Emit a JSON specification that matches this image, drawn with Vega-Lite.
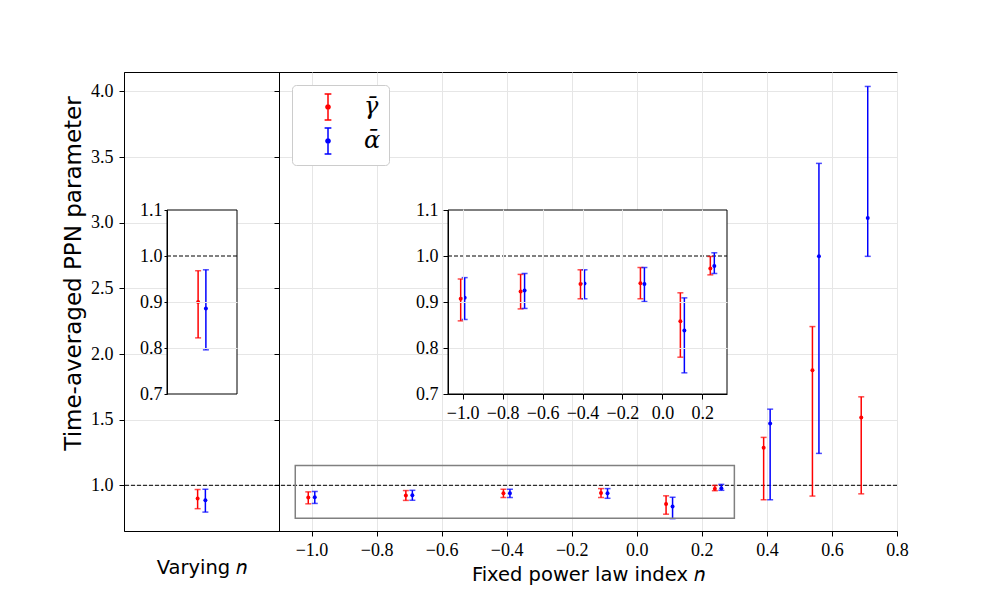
{
  "$schema": "https://vega.github.io/schema/vega-lite/v6.json",
  "width": 773,
  "height": 459,
  "autosize": {"type": "none"},
  "padding": {"left": 124, "top": 72, "right": 100, "bottom": 67},
  "background": "white",
  "config": {
    "view": {"stroke": "black", "strokeWidth": 1},
    "axis": {
      "labelFont": "Liberation Serif",
      "labelFontSize": 18,
      "labelColor": "black",
      "labelPadding": 5,
      "labelFlush": false,
      "labelOverlap": false,
      "tickColor": "black",
      "tickSize": 5,
      "tickWidth": 1,
      "domainColor": "black",
      "domainWidth": 1,
      "gridColor": "#e6e6e6",
      "gridWidth": 1,
      "titleFont": "DejaVu Sans",
      "titleFontWeight": "normal",
      "titleFontSize": 19.5,
      "titleColor": "black"
    }
  },
  "datasets": {
    "pts": [
      {"panel": "left", "n": -0.05, "param": "gamma", "v": 0.900, "lo": 0.822, "hi": 0.968},
      {"panel": "left", "n": 0.05, "param": "alpha", "v": 0.886, "lo": 0.796, "hi": 0.970},
      {"panel": "main", "n": -1.01, "param": "gamma", "v": 0.907, "lo": 0.859, "hi": 0.950},
      {"panel": "main", "n": -0.99, "param": "alpha", "v": 0.909, "lo": 0.862, "hi": 0.953},
      {"panel": "main", "n": -0.71, "param": "gamma", "v": 0.923, "lo": 0.885, "hi": 0.960},
      {"panel": "main", "n": -0.69, "param": "alpha", "v": 0.925, "lo": 0.886, "hi": 0.962},
      {"panel": "main", "n": -0.41, "param": "gamma", "v": 0.939, "lo": 0.907, "hi": 0.970},
      {"panel": "main", "n": -0.39, "param": "alpha", "v": 0.940, "lo": 0.907, "hi": 0.970},
      {"panel": "main", "n": -0.11, "param": "gamma", "v": 0.941, "lo": 0.907, "hi": 0.975},
      {"panel": "main", "n": -0.09, "param": "alpha", "v": 0.939, "lo": 0.901, "hi": 0.975},
      {"panel": "main", "n": 0.09, "param": "gamma", "v": 0.858, "lo": 0.780, "hi": 0.920},
      {"panel": "main", "n": 0.11, "param": "alpha", "v": 0.838, "lo": 0.746, "hi": 0.909},
      {"panel": "main", "n": 0.24, "param": "gamma", "v": 0.973, "lo": 0.959, "hi": 0.999},
      {"panel": "main", "n": 0.26, "param": "alpha", "v": 0.978, "lo": 0.962, "hi": 1.007},
      {"panel": "main", "n": 0.39, "param": "gamma", "v": 1.286, "lo": 0.890, "hi": 1.365},
      {"panel": "main", "n": 0.41, "param": "alpha", "v": 1.471, "lo": 0.890, "hi": 1.580},
      {"panel": "main", "n": 0.54, "param": "gamma", "v": 1.877, "lo": 0.918, "hi": 2.209},
      {"panel": "main", "n": 0.56, "param": "alpha", "v": 2.744, "lo": 1.243, "hi": 3.452},
      {"panel": "main", "n": 0.69, "param": "gamma", "v": 1.517, "lo": 0.935, "hi": 1.674},
      {"panel": "main", "n": 0.71, "param": "alpha", "v": 3.036, "lo": 2.744, "hi": 4.038}
    ]
  },
  "resolve": {
    "scale": {"x": "independent", "y": "independent"},
    "axis": {"x": "independent", "y": "independent"}
  },
  "layer": [
    {
      "data": {"name": "pts"},
      "transform": [{"filter": "datum.panel == 'left'"}],
      "layer": [
        {
          "mark": {"type": "rule", "strokeWidth": 1.5},
          "encoding": {
            "x": {
              "field": "n", "type": "quantitative",
              "scale": {"domain": [-1, 1], "range": [0, 155], "nice": false, "zero": false},
              "axis": {"orient": "bottom", "labels": false, "ticks": false, "domain": false, "grid": false,
                       "title": "Varying 𝑛", "titleY": 36, "titleBaseline": "middle"}
            },
            "y": {
              "field": "lo", "type": "quantitative",
              "scale": {"domain": [0.652, 4.148], "nice": false, "zero": false},
              "axis": {"orient": "left", "values": [1, 1.5, 2, 2.5, 3, 3.5, 4], "format": ".1f", "grid": true,
                       "labelPadding": 6,
                       "title": "Time-averaged PPN parameter", "titleFontSize": 23,
                       "titleX": -51, "titleY": 201, "titleAngle": 270,
                       "titleAlign": "center", "titleBaseline": "middle"}
            },
            "y2": {"field": "hi"},
            "color": {
              "field": "param", "type": "nominal",
              "scale": {"domain": ["gamma", "alpha"], "range": ["#ff0000", "#0000ff"]},
              "legend": {
                "orient": "none", "legendX": 168, "legendY": 13, "title": null,
                "symbolType": "M0,-1L0,1M-0.26,-1L0.26,-1M-0.26,1L0.26,1M0.16,0A0.16,0.16,0,1,1,-0.16,0A0.16,0.16,0,1,1,0.16,0Z",
                "symbolSize": 676, "symbolStrokeWidth": 1.5, "symbolOffset": 14,
                "padding": 8, "rowPadding": 2, "labelOffset": 22,
                "labelFont": "DejaVu Serif", "labelFontStyle": "italic", "labelFontSize": 24,
                "labelExpr": "datum.value == 'gamma' ? '\u03b3\u0304\u2002\u2004' : '\u03b1\u0304\u2002\u2004'",
                "fillColor": "white", "strokeColor": "#cccccc", "cornerRadius": 4
              }
            }
          }
        },
        {
          "mark": {"type": "tick", "orient": "horizontal", "size": 6, "thickness": 1.5},
          "encoding": {
            "x": {"field": "n", "type": "quantitative", "scale": {"domain": [-1, 1], "range": [0, 155], "nice": false, "zero": false}},
            "y": {"field": "lo", "type": "quantitative", "scale": {"domain": [0.652, 4.148], "nice": false, "zero": false}},
            "color": {"field": "param", "type": "nominal", "scale": {"domain": ["gamma", "alpha"], "range": ["#ff0000", "#0000ff"]}, "legend": null}
          }
        },
        {
          "mark": {"type": "tick", "orient": "horizontal", "size": 6, "thickness": 1.5},
          "encoding": {
            "x": {"field": "n", "type": "quantitative", "scale": {"domain": [-1, 1], "range": [0, 155], "nice": false, "zero": false}},
            "y": {"field": "hi", "type": "quantitative", "scale": {"domain": [0.652, 4.148], "nice": false, "zero": false}},
            "color": {"field": "param", "type": "nominal", "scale": {"domain": ["gamma", "alpha"], "range": ["#ff0000", "#0000ff"]}, "legend": null}
          }
        },
        {
          "mark": {"type": "point", "filled": true, "size": 16, "opacity": 1},
          "encoding": {
            "x": {"field": "n", "type": "quantitative", "scale": {"domain": [-1, 1], "range": [0, 155], "nice": false, "zero": false}},
            "y": {"field": "v", "type": "quantitative", "scale": {"domain": [0.652, 4.148], "nice": false, "zero": false}},
            "color": {"field": "param", "type": "nominal", "scale": {"domain": ["gamma", "alpha"], "range": ["#ff0000", "#0000ff"]}, "legend": null}
          }
        },
        {
          "data": {"values": [{}]},
          "mark": {"type": "rule", "color": "black", "strokeWidth": 1, "strokeDash": [4, 2]},
          "encoding": {
            "y": {"datum": 1, "type": "quantitative", "scale": {"domain": [0.652, 4.148], "nice": false, "zero": false}}
          }
        }
      ]
    },
    {
      "data": {"name": "pts"},
      "transform": [{"filter": "datum.panel == 'main'"}],
      "layer": [
        {
          "mark": {"type": "rule", "strokeWidth": 1.5},
          "encoding": {
            "x": {
              "field": "n", "type": "quantitative",
              "scale": {"domain": [-1.1, 0.8], "range": [155, 773], "nice": false, "zero": false},
              "axis": {"orient": "bottom", "values": [-1, -0.8, -0.6, -0.4, -0.2, 0, 0.2, 0.4, 0.6, 0.8], "format": ".1f",
                       "grid": true, "title": "Fixed power law index 𝑛", "titleY": 43, "titleBaseline": "middle"}
            },
            "y": {
              "field": "lo", "type": "quantitative",
              "scale": {"domain": [0.652, 4.148], "nice": false, "zero": false},
              "axis": {"orient": "left", "offset": -155, "values": [1, 1.5, 2, 2.5, 3, 3.5, 4],
                       "labels": false, "grid": true, "title": null}
            },
            "y2": {"field": "hi"},
            "color": {"field": "param", "type": "nominal", "scale": {"domain": ["gamma", "alpha"], "range": ["#ff0000", "#0000ff"]}, "legend": null}
          }
        },
        {
          "mark": {"type": "tick", "orient": "horizontal", "size": 6, "thickness": 1.5},
          "encoding": {
            "x": {"field": "n", "type": "quantitative", "scale": {"domain": [-1.1, 0.8], "range": [155, 773], "nice": false, "zero": false}},
            "y": {"field": "lo", "type": "quantitative", "scale": {"domain": [0.652, 4.148], "nice": false, "zero": false}},
            "color": {"field": "param", "type": "nominal", "scale": {"domain": ["gamma", "alpha"], "range": ["#ff0000", "#0000ff"]}, "legend": null}
          }
        },
        {
          "mark": {"type": "tick", "orient": "horizontal", "size": 6, "thickness": 1.5},
          "encoding": {
            "x": {"field": "n", "type": "quantitative", "scale": {"domain": [-1.1, 0.8], "range": [155, 773], "nice": false, "zero": false}},
            "y": {"field": "hi", "type": "quantitative", "scale": {"domain": [0.652, 4.148], "nice": false, "zero": false}},
            "color": {"field": "param", "type": "nominal", "scale": {"domain": ["gamma", "alpha"], "range": ["#ff0000", "#0000ff"]}, "legend": null}
          }
        },
        {
          "mark": {"type": "point", "filled": true, "size": 16, "opacity": 1},
          "encoding": {
            "x": {"field": "n", "type": "quantitative", "scale": {"domain": [-1.1, 0.8], "range": [155, 773], "nice": false, "zero": false}},
            "y": {"field": "v", "type": "quantitative", "scale": {"domain": [0.652, 4.148], "nice": false, "zero": false}},
            "color": {"field": "param", "type": "nominal", "scale": {"domain": ["gamma", "alpha"], "range": ["#ff0000", "#0000ff"]}, "legend": null}
          }
        },
        {
          "data": {"values": [{}]},
          "mark": {"type": "rect", "fill": "transparent", "stroke": "#808080", "strokeWidth": 1.5},
          "encoding": {
            "x": {"datum": -1.05, "type": "quantitative", "scale": {"domain": [-1.1, 0.8], "range": [155, 773], "nice": false, "zero": false}},
            "x2": {"datum": 0.3},
            "y": {"datum": 0.75, "type": "quantitative", "scale": {"domain": [0.652, 4.148], "nice": false, "zero": false}},
            "y2": {"datum": 1.15}
          }
        }
      ]
    },
    {
      "data": {"name": "pts"},
      "transform": [{"filter": "datum.panel == 'main' && datum.n < 0.3"}],
      "layer": [
        {
          "data": {"values": [{}]},
          "mark": {"type": "rect", "fill": "white", "stroke": "black", "strokeWidth": 1},
          "encoding": {
            "x": {"datum": -1.0735, "type": "quantitative", "scale": {"domain": [-1.0735, 0.3235], "range": [324, 603], "nice": false, "zero": false}},
            "x2": {"datum": 0.3235},
            "y": {"datum": 0.7, "type": "quantitative", "scale": {"domain": [0.7, 1.1], "range": [322, 138], "nice": false, "zero": false}},
            "y2": {"datum": 1.1}
          }
        },
        {
          "data": {"values": [{}]},
          "mark": {"type": "rule", "color": "black", "strokeWidth": 1, "strokeDash": [4, 2]},
          "encoding": {
            "x": {"datum": -1.0735, "type": "quantitative", "scale": {"domain": [-1.0735, 0.3235], "range": [324, 603], "nice": false, "zero": false}},
            "x2": {"datum": 0.3235},
            "y": {"datum": 1, "type": "quantitative", "scale": {"domain": [0.7, 1.1], "range": [322, 138], "nice": false, "zero": false}}
          }
        },
        {
          "mark": {"type": "rule", "strokeWidth": 1.5},
          "encoding": {
            "x": {
              "field": "n", "type": "quantitative",
              "scale": {"domain": [-1.0735, 0.3235], "range": [324, 603], "nice": false, "zero": false},
              "axis": {"orient": "bottom", "offset": -137, "values": [-1, -0.8, -0.6, -0.4, -0.2, 0, 0.2], "format": ".1f",
                       "grid": true, "title": null, "zindex": 1}
            },
            "y": {
              "field": "lo", "type": "quantitative",
              "scale": {"domain": [0.7, 1.1], "range": [322, 138], "nice": false, "zero": false},
              "axis": {"orient": "left", "offset": -324, "values": [0.7, 0.8, 0.9, 1.0, 1.1], "format": ".1f",
                       "grid": true, "title": null, "zindex": 1,
                       "gridOpacity": {"condition": {"test": "abs(datum.value - 1) < 0.001 || datum.value > 1.09 || datum.value < 0.71", "value": 0}, "value": 1}}
            },
            "y2": {"field": "hi"},
            "color": {"field": "param", "type": "nominal", "scale": {"domain": ["gamma", "alpha"], "range": ["#ff0000", "#0000ff"]}, "legend": null}
          }
        },
        {
          "mark": {"type": "tick", "orient": "horizontal", "size": 6, "thickness": 1.5},
          "encoding": {
            "x": {"field": "n", "type": "quantitative", "scale": {"domain": [-1.0735, 0.3235], "range": [324, 603], "nice": false, "zero": false}},
            "y": {"field": "lo", "type": "quantitative", "scale": {"domain": [0.7, 1.1], "range": [322, 138], "nice": false, "zero": false}},
            "color": {"field": "param", "type": "nominal", "scale": {"domain": ["gamma", "alpha"], "range": ["#ff0000", "#0000ff"]}, "legend": null}
          }
        },
        {
          "mark": {"type": "tick", "orient": "horizontal", "size": 6, "thickness": 1.5},
          "encoding": {
            "x": {"field": "n", "type": "quantitative", "scale": {"domain": [-1.0735, 0.3235], "range": [324, 603], "nice": false, "zero": false}},
            "y": {"field": "hi", "type": "quantitative", "scale": {"domain": [0.7, 1.1], "range": [322, 138], "nice": false, "zero": false}},
            "color": {"field": "param", "type": "nominal", "scale": {"domain": ["gamma", "alpha"], "range": ["#ff0000", "#0000ff"]}, "legend": null}
          }
        },
        {
          "mark": {"type": "point", "filled": true, "size": 16, "opacity": 1},
          "encoding": {
            "x": {"field": "n", "type": "quantitative", "scale": {"domain": [-1.0735, 0.3235], "range": [324, 603], "nice": false, "zero": false}},
            "y": {"field": "v", "type": "quantitative", "scale": {"domain": [0.7, 1.1], "range": [322, 138], "nice": false, "zero": false}},
            "color": {"field": "param", "type": "nominal", "scale": {"domain": ["gamma", "alpha"], "range": ["#ff0000", "#0000ff"]}, "legend": null}
          }
        }
      ]
    },
    {
      "data": {"name": "pts"},
      "transform": [{"filter": "datum.panel == 'left'"}],
      "layer": [
        {
          "data": {"values": [{}]},
          "mark": {"type": "rect", "fill": "white", "stroke": "black", "strokeWidth": 1},
          "encoding": {
            "x": {"datum": -0.45, "type": "quantitative", "scale": {"domain": [-0.45, 0.45], "range": [43, 113], "nice": false, "zero": false}, "axis": null},
            "x2": {"datum": 0.45},
            "y": {"datum": 0.7, "type": "quantitative", "scale": {"domain": [0.7, 1.1], "range": [322, 138], "nice": false, "zero": false}},
            "y2": {"datum": 1.1}
          }
        },
        {
          "data": {"values": [{}]},
          "mark": {"type": "rule", "color": "black", "strokeWidth": 1, "strokeDash": [4, 2]},
          "encoding": {
            "x": {"datum": -0.45, "type": "quantitative", "scale": {"domain": [-0.45, 0.45], "range": [43, 113], "nice": false, "zero": false}, "axis": null},
            "x2": {"datum": 0.45},
            "y": {"datum": 1, "type": "quantitative", "scale": {"domain": [0.7, 1.1], "range": [322, 138], "nice": false, "zero": false}}
          }
        },
        {
          "mark": {"type": "rule", "strokeWidth": 1.5},
          "encoding": {
            "x": {
              "field": "n", "type": "quantitative",
              "scale": {"domain": [-0.45, 0.45], "range": [43, 113], "nice": false, "zero": false},
              "axis": null
            },
            "y": {
              "field": "lo", "type": "quantitative",
              "scale": {"domain": [0.7, 1.1], "range": [322, 138], "nice": false, "zero": false},
              "axis": {"orient": "left", "offset": -43, "values": [0.7, 0.8, 0.9, 1.0, 1.1], "format": ".1f",
                       "grid": true, "tickSize": 3, "labelPadding": 2, "title": null, "zindex": 1,
                       "gridOpacity": {"condition": {"test": "abs(datum.value - 1) < 0.001 || datum.value > 1.09 || datum.value < 0.71", "value": 0}, "value": 1}}
            },
            "y2": {"field": "hi"},
            "color": {"field": "param", "type": "nominal", "scale": {"domain": ["gamma", "alpha"], "range": ["#ff0000", "#0000ff"]}, "legend": null}
          }
        },
        {
          "mark": {"type": "tick", "orient": "horizontal", "size": 6, "thickness": 1.5},
          "encoding": {
            "x": {"field": "n", "type": "quantitative", "scale": {"domain": [-0.45, 0.45], "range": [43, 113], "nice": false, "zero": false}, "axis": null},
            "y": {"field": "lo", "type": "quantitative", "scale": {"domain": [0.7, 1.1], "range": [322, 138], "nice": false, "zero": false}},
            "color": {"field": "param", "type": "nominal", "scale": {"domain": ["gamma", "alpha"], "range": ["#ff0000", "#0000ff"]}, "legend": null}
          }
        },
        {
          "mark": {"type": "tick", "orient": "horizontal", "size": 6, "thickness": 1.5},
          "encoding": {
            "x": {"field": "n", "type": "quantitative", "scale": {"domain": [-0.45, 0.45], "range": [43, 113], "nice": false, "zero": false}, "axis": null},
            "y": {"field": "hi", "type": "quantitative", "scale": {"domain": [0.7, 1.1], "range": [322, 138], "nice": false, "zero": false}},
            "color": {"field": "param", "type": "nominal", "scale": {"domain": ["gamma", "alpha"], "range": ["#ff0000", "#0000ff"]}, "legend": null}
          }
        },
        {
          "mark": {"type": "point", "filled": true, "size": 16, "opacity": 1},
          "encoding": {
            "x": {"field": "n", "type": "quantitative", "scale": {"domain": [-0.45, 0.45], "range": [43, 113], "nice": false, "zero": false}, "axis": null},
            "y": {"field": "v", "type": "quantitative", "scale": {"domain": [0.7, 1.1], "range": [322, 138], "nice": false, "zero": false}},
            "color": {"field": "param", "type": "nominal", "scale": {"domain": ["gamma", "alpha"], "range": ["#ff0000", "#0000ff"]}, "legend": null}
          }
        }
      ]
    }
  ]
}
